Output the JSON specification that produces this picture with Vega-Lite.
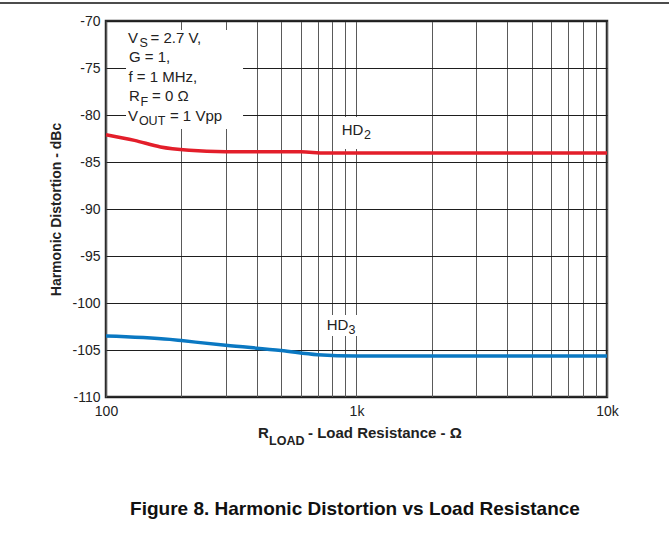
{
  "$schema": "https://vega.github.io/schema/vega-lite/v6.json",
  "width": 501,
  "height": 376,
  "autosize": {"type": "none"},
  "padding": {"left": 106, "top": 21, "right": 62, "bottom": 145},
  "background": "white",
  "config": {
    "font": "Arial",
    "view": {"stroke": "#2a2a2a", "strokeWidth": 2.5}
  },
  "datasets": {
    "curves": [
      {"R": 100, "dBc": -82.1, "series": "HD2"},
      {"R": 130, "dBc": -82.7, "series": "HD2"},
      {"R": 165, "dBc": -83.4, "series": "HD2"},
      {"R": 215, "dBc": -83.75, "series": "HD2"},
      {"R": 300, "dBc": -83.9, "series": "HD2"},
      {"R": 600, "dBc": -83.92, "series": "HD2"},
      {"R": 750, "dBc": -84.05, "series": "HD2"},
      {"R": 1000, "dBc": -84.05, "series": "HD2"},
      {"R": 10000, "dBc": -84.05, "series": "HD2"},
      {"R": 100, "dBc": -103.5, "series": "HD3"},
      {"R": 180, "dBc": -103.87, "series": "HD3"},
      {"R": 200, "dBc": -104.0, "series": "HD3"},
      {"R": 300, "dBc": -104.5, "series": "HD3"},
      {"R": 500, "dBc": -105.05, "series": "HD3"},
      {"R": 700, "dBc": -105.5, "series": "HD3"},
      {"R": 1000, "dBc": -105.65, "series": "HD3"},
      {"R": 10000, "dBc": -105.65, "series": "HD3"}
    ],
    "masks": [
      {"R": 120.2, "R2": 352.4, "dBc": -70.96, "dBc2": -81.49},
      {"R": 828.4, "R2": 1196.5, "dBc": -80.21, "dBc2": -83.62},
      {"R": 721.9, "R2": 1042.2, "dBc": -101.28, "dBc2": -103.51}
    ],
    "boxMain": [
      {"R": 122.4, "dBc": -72.34, "text": "V"},
      {"R": 150.5, "dBc": -72.34, "text": "= 2.7 V,"},
      {"R": 123.5, "dBc": -74.41, "text": "G = 1,"},
      {"R": 123.0, "dBc": -76.49, "text": "f = 1 MHz,"},
      {"R": 123.5, "dBc": -78.56, "text": "R"},
      {"R": 152.8, "dBc": -78.56, "text": "= 0 Ω"},
      {"R": 122.4, "dBc": -80.64, "text": "V"},
      {"R": 180.0, "dBc": -80.64, "text": "= 1 Vpp"},
      {"R": 873.0, "dBc": -82.13, "text": "HD"},
      {"R": 760.4, "dBc": -102.87, "text": "HD"}
    ],
    "boxSub": [
      {"R": 136.1, "dBc": -72.8, "text": "S"},
      {"R": 137.3, "dBc": -79.0, "text": "F"},
      {"R": 135.3, "dBc": -81.1, "text": "OUT"},
      {"R": 1071.5, "dBc": -82.55, "text": "2"},
      {"R": 929.0, "dBc": -103.3, "text": "3"}
    ],
    "xTitleMain": [
      {"R": 404.5, "dBc": -114.36, "text": "R"},
      {"R": 640.5, "dBc": -114.36, "text": "- Load Resistance - Ω"}
    ],
    "xTitleSub": [
      {"R": 447.5, "dBc": -115.1, "text": "LOAD"}
    ],
    "figTitle": [
      {"R": 986.3, "dBc": -122.55, "text": "Figure 8. Harmonic Distortion vs Load Resistance"}
    ]
  },
  "layer": [
    {
      "data": {"name": "masks"},
      "mark": {"type": "rect", "fill": "white", "stroke": null},
      "encoding": {
        "x": {"field": "R", "type": "quantitative", "scale": {"type": "log", "domain": [100, 10000]},
          "axis": {
            "values": [100, 200, 300, 400, 500, 600, 700, 800, 900, 1000, 2000, 3000, 4000, 5000, 6000, 7000, 8000, 9000, 10000],
            "labelExpr": "datum.value == 100 ? '100' : datum.value == 1000 ? '1k' : datum.value == 10000 ? '10k' : ''",
            "title": null, "ticks": false, "domain": false,
            "grid": true, "gridColor": "#5a5a5a", "gridWidth": 1, "gridOpacity": 1,
            "labelFontSize": 14, "labelColor": "#222", "labelPadding": 7, "labelFlush": false, "labelOverlap": false
          }},
        "x2": {"field": "R2"},
        "y": {"field": "dBc", "type": "quantitative", "scale": {"domain": [-110, -70], "nice": false, "zero": false},
          "axis": {
            "values": [-110, -105, -100, -95, -90, -85, -80, -75, -70],
            "labelExpr": "'' + datum.value",
            "title": "Harmonic Distortion - dBc", "titleFontSize": 14, "titleFontWeight": "bold", "titleColor": "#222",
            "titlePadding": 8,
            "ticks": false, "domain": false,
            "grid": true, "gridColor": "#1e1e1e", "gridWidth": 1, "gridOpacity": 1,
            "labelFontSize": 14, "labelColor": "#222", "labelPadding": 6, "labelFlush": false, "labelOverlap": false
          }},
        "y2": {"field": "dBc2"}
      }
    },
    {
      "data": {"name": "curves"},
      "mark": {"type": "line", "strokeWidth": 3.5, "interpolate": "monotone"},
      "encoding": {
        "x": {"field": "R", "type": "quantitative"},
        "y": {"field": "dBc", "type": "quantitative"},
        "color": {"field": "series", "type": "nominal", "scale": {"domain": ["HD2", "HD3"], "range": ["#e31e2a", "#0a78c2"]}, "legend": null}
      }
    },
    {
      "data": {"name": "boxMain"},
      "mark": {"type": "text", "align": "left", "baseline": "alphabetic", "fontSize": 15, "color": "#222"},
      "encoding": {
        "x": {"field": "R", "type": "quantitative"},
        "y": {"field": "dBc", "type": "quantitative"},
        "text": {"field": "text"}
      }
    },
    {
      "data": {"name": "boxSub"},
      "mark": {"type": "text", "align": "left", "baseline": "alphabetic", "fontSize": 12.5, "color": "#222"},
      "encoding": {
        "x": {"field": "R", "type": "quantitative"},
        "y": {"field": "dBc", "type": "quantitative"},
        "text": {"field": "text"}
      }
    },
    {
      "data": {"name": "xTitleMain"},
      "mark": {"type": "text", "align": "left", "baseline": "alphabetic", "fontSize": 15, "fontWeight": "bold", "color": "#222"},
      "encoding": {
        "x": {"field": "R", "type": "quantitative"},
        "y": {"field": "dBc", "type": "quantitative"},
        "text": {"field": "text"}
      }
    },
    {
      "data": {"name": "xTitleSub"},
      "mark": {"type": "text", "align": "left", "baseline": "alphabetic", "fontSize": 12.5, "fontWeight": "bold", "color": "#222"},
      "encoding": {
        "x": {"field": "R", "type": "quantitative"},
        "y": {"field": "dBc", "type": "quantitative"},
        "text": {"field": "text"}
      }
    },
    {
      "data": {"name": "figTitle"},
      "mark": {"type": "text", "align": "center", "baseline": "alphabetic", "fontSize": 19, "fontWeight": "bold", "color": "#111"},
      "encoding": {
        "x": {"field": "R", "type": "quantitative"},
        "y": {"field": "dBc", "type": "quantitative"},
        "text": {"field": "text"}
      }
    },
    {
      "data": {"values": [{}]},
      "mark": {"type": "rule", "color": "#111", "strokeWidth": 1.5},
      "encoding": {
        "x": {"datum": 30},
        "x2": {"datum": 20000},
        "y": {"datum": -68.09}
      }
    }
  ]
}
